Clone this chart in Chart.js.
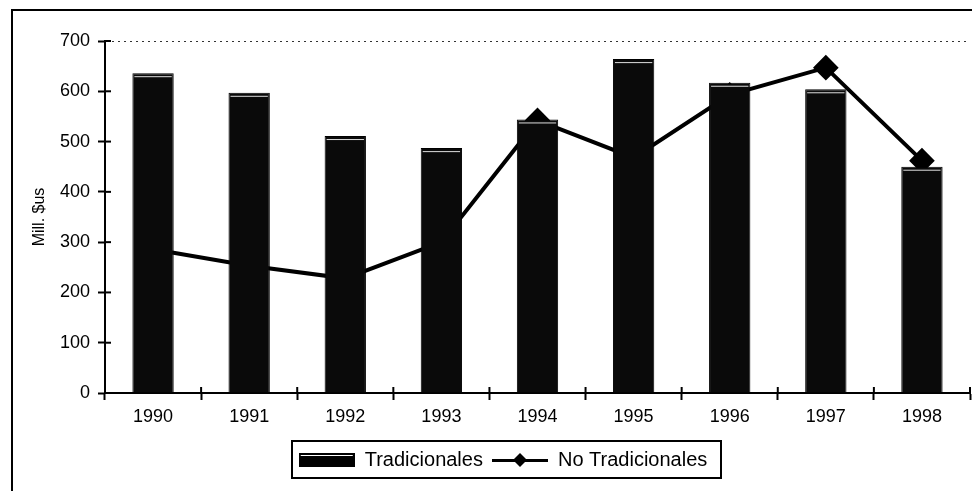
<!DOCTYPE html>
<html>
<head>
<meta charset="utf-8">
<script src="https://cdn.jsdelivr.net/npm/chart.js@4.4.1/dist/chart.umd.min.js"></script>
<style>
  html, body { margin: 0; padding: 0; background: #fff; }
  #wrap { width: 972px; height: 491px; }
</style>
</head>
<body>
<div id="wrap"><canvas id="grafico" width="972" height="491"></canvas></div>
<script>
const anios = ['1990', '1991', '1992', '1993', '1994', '1995', '1996', '1997', '1998']
const tradicionales = [636, 597, 511, 487, 544, 664, 617, 604, 450]
const noTradicionales = [286, 253, 228, 300, 542, 468, 593, 647, 462]
const yTicks = [0, 100, 200, 300, 400, 500, 600, 700]

const fuente = 'Liberation Sans, Arial, sans-serif'

// muestras de la leyenda dibujadas a mano
const muestraBarra = document.createElement('canvas')
muestraBarra.width = 56
muestraBarra.height = 14
let c = muestraBarra.getContext('2d')
c.fillStyle = '#000'
c.fillRect(0, 0, 56, 14)
c.fillStyle = '#fff'
c.fillRect(2, 2, 52, 1)

const muestraLinea = document.createElement('canvas')
muestraLinea.width = 56
muestraLinea.height = 16
c = muestraLinea.getContext('2d')
c.fillStyle = '#000'
c.fillRect(0, 7, 56, 3)
c.beginPath()
c.moveTo(28, 1); c.lineTo(35, 8); c.lineTo(28, 15); c.lineTo(21, 8); c.closePath()
c.fill()

const marco = {
  id: 'marco',
  afterLayout(chart) {
    // mover la leyenda un poco a la derecha como en el original
    const lg = chart.legend
    lg.left += 18
    lg.right += 18
  },
  beforeDraw(chart) {
    const ctx = chart.ctx
    ctx.save()
    ctx.strokeStyle = '#000'
    ctx.lineWidth = 2
    ctx.beginPath()
    ctx.moveTo(12, 491); ctx.lineTo(12, 10); ctx.lineTo(972, 10)
    ctx.stroke()
    ctx.restore()
  },
  afterDatasetsDraw(chart) {
    // linea clara fina cerca del borde superior de cada barra
    const ctx = chart.ctx
    const meta = chart.getDatasetMeta(0)
    ctx.save()
    ctx.fillStyle = '#ddd'
    meta.data.forEach((b) => {
      ctx.fillRect(b.x - b.width / 2 + 2, b.y + 3, b.width - 4, 1)
    })
    ctx.restore()
  },
  afterDraw(chart) {
    const ctx = chart.ctx
    const x = chart.scales.x
    const y = chart.scales.y
    ctx.save()
    ctx.strokeStyle = '#000'
    ctx.lineWidth = 2
    // marcas hacia adentro
    yTicks.forEach((v) => {
      const py = y.getPixelForValue(v)
      ctx.beginPath(); ctx.moveTo(x.left, py); ctx.lineTo(x.left + 6, py); ctx.stroke()
    })
    for (let i = 0; i <= anios.length; i++) {
      const px = x.getPixelForValue(i - 0.5)
      ctx.beginPath(); ctx.moveTo(px, y.bottom); ctx.lineTo(px, y.bottom - 6); ctx.stroke()
    }
    // caja de la leyenda
    const lg = chart.legend
    const cx = (lg.left + lg.right) / 2
    ctx.lineWidth = 2
    ctx.strokeRect(cx - 211, 441, 429, 37)
    ctx.restore()
  },
}

const grafico = new Chart(document.getElementById('grafico'), {
  type: 'bar',
  data: {
    labels: anios,
    datasets: [
      {
        label: 'Tradicionales',
        data: tradicionales,
        backgroundColor: '#0a0a0a',
        borderColor: '#000',
        borderWidth: 1,
        barPercentage: 0.43,
        categoryPercentage: 1,
        order: 0,
      },
      {
        type: 'line',
        label: 'No Tradicionales',
        data: noTradicionales,
        borderColor: '#000',
        backgroundColor: '#000',
        borderWidth: 4,
        pointStyle: 'rectRot',
        pointRadius: 10,
        pointHoverRadius: 10,
        tension: 0,
        order: 1,
      },
    ],
  },
  options: {
    responsive: false,
    animation: false,
    layout: {
      autoPadding: false,
      padding: { top: 41, right: 2, left: 0, bottom: 11 },
    },
    scales: {
      x: {
        afterFit: (s) => { s.height = 48 },
        grid: {
          offset: true,
          color: 'transparent',
          tickColor: '#000',
          tickLength: 7,
          tickWidth: 2,
        },
        border: { color: '#000', width: 2 },
        ticks: { color: '#000', font: { family: fuente, size: 18 }, padding: 6 },
      },
      y: {
        min: 0,
        max: 700,
        afterFit: (s) => { s.width = 105 },
        afterBuildTicks: (s) => { s.ticks = yTicks.map((v) => ({ value: v })) },
        grid: {
          color: (ctx) => (ctx.tick && ctx.tick.value === 700 ? '#333' : 'transparent'),
          tickColor: '#000',
          tickLength: 7,
          tickWidth: 2,
        },
        border: { color: '#000', width: 2, dash: [2, 4] },
        ticks: { color: '#000', font: { family: fuente, size: 18 }, padding: 8 },
        title: {
          display: true,
          text: 'Mill. $us',
          color: '#000',
          font: { family: fuente, size: 16 },
          padding: { top: 30, bottom: 2 },
        },
      },
    },
    plugins: {
      legend: {
        position: 'bottom',
        labels: {
          usePointStyle: true,
          pointStyleWidth: 56,
          color: '#000',
          font: { family: fuente, size: 20 },
          padding: 9,
          boxHeight: 14,
          generateLabels: () => [
            { text: 'Tradicionales', pointStyle: muestraBarra, fontColor: '#000', datasetIndex: 0 },
            { text: 'No Tradicionales', pointStyle: muestraLinea, fontColor: '#000', datasetIndex: 1 },
          ],
        },
      },
      tooltip: { enabled: false },
    },
  },
  plugins: [marco],
})
</script>
</body>
</html>
